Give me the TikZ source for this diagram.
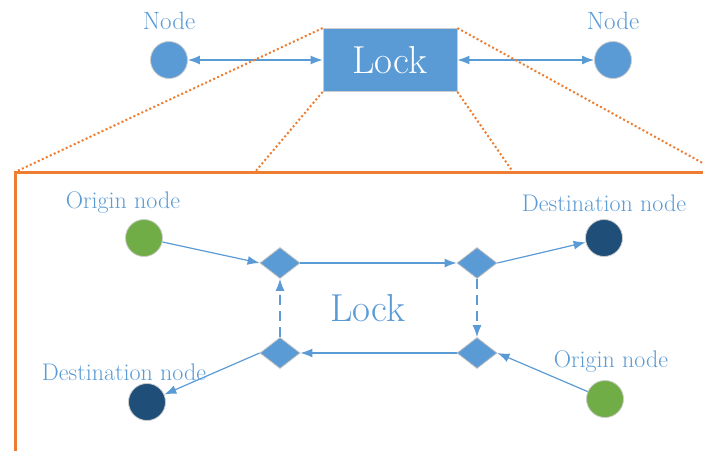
\documentclass[tikz,border=0pt]{standalone}
\usetikzlibrary{arrows.meta,shapes.geometric}
\definecolor{lockblue}{HTML}{5B9BD5}
\definecolor{origgreen}{HTML}{70AD47}
\definecolor{destblue}{HTML}{1F4E79}
\definecolor{zoomorange}{HTML}{ED7D31}
\tikzset{
  dot/.style={circle, minimum size=37pt, inner sep=0pt, draw=black!20, line width=0.8pt},
  crossing/.style={diamond, minimum width=40pt, minimum height=31pt, inner sep=0pt,
    fill=lockblue, draw=black!25, line width=0.8pt},
  lbl/.style={text=lockblue, font=\fontsize{24}{28}\selectfont},
  arr/.style={-{Latex[length=12pt,width=9pt]}, draw=lockblue, line width=1.2pt},
  both/.style={{Latex[length=12pt,width=9pt]}-{Latex[length=12pt,width=9pt]}},
  zoomline/.style={draw=zoomorange, line width=2pt, dash pattern=on 2pt off 2.4pt}
}
\begin{document}
\begin{tikzpicture}[x=1pt,y=-1pt]
    \useasboundingbox (0,0) rectangle (703,450);
    \clip (0,0) rectangle (703,450);
    % upper part
    \node[dot, fill=lockblue] (left) at (169,60) {};
    \node[dot, fill=lockblue] (right) at (613,60) {};
    \node[lbl, font=\fontsize{25}{28}\selectfont] (leftlbl) at (169,21) {Node};
    \node[lbl, font=\fontsize{25}{28}\selectfont] (rightlbl) at (613,21) {Node};
    \node[fill=lockblue, draw=black!20, line width=0.8pt, minimum width=134pt, minimum height=63pt,
      text=white, font=\fontsize{39}{44}\selectfont] (lock) at (390,60) {Lock};
    \draw[arr, both] (left) -- (lock);
    \draw[arr, both] (lock) -- (right);
    % zoomed frame
    \coordinate (fnw) at (15,172);
    \coordinate (fa) at (255,172);
    \coordinate (fb) at (513,172);
    \coordinate (fne) at (719,172);
    \draw[zoomline] (lock.north west) -- (fnw);
    \draw[zoomline] (lock.south west) -- (fa);
    \draw[zoomline] (lock.south east) -- (fb);
    \draw[zoomline] (lock.north east) -- (fne);
    \draw[draw=zoomorange, line width=3pt] (15,470) -- (fnw) -- (fne);
    % inside the lock
    \node[crossing] (tl) at (280,263) {};
    \node[crossing] (tr) at (477,263) {};
    \node[crossing] (bl) at (280,353) {};
    \node[crossing] (br) at (477,353) {};
    \node[text=lockblue, font=\fontsize{39}{44}\selectfont] (inlock) at (368,308) {Lock};
    \node[dot, fill=origgreen] (orig1) at (144,238) {};
    \node[dot, fill=destblue] (dest1) at (604,238) {};
    \node[dot, fill=origgreen] (orig2) at (605,399) {};
    \node[dot, fill=destblue] (dest2) at (147,402) {};
    \node[lbl] (orig1lbl) at (123,203) {Origin node};
    \node[lbl] (dest1lbl) at (604,203) {Destination node};
    \node[lbl] (orig2lbl) at (611,362) {Origin node};
    \node[lbl] (dest2lbl) at (124,372) {Destination node};
    \draw[arr] (orig1) -- (tl.west);
    \draw[arr] (tl.east) -- (tr.west);
    \draw[arr] (tr.east) -- (dest1);
    \draw[arr, dash pattern=on 10pt off 6pt] (tr.south) -- (br.north);
    \draw[arr] (orig2) -- (br.east);
    \draw[arr] (br.west) -- (bl.east);
    \draw[arr, dash pattern=on 10pt off 6pt] (bl.north) -- (tl.south);
    \draw[arr] (bl.west) -- (dest2);
\end{tikzpicture}
\end{document}
